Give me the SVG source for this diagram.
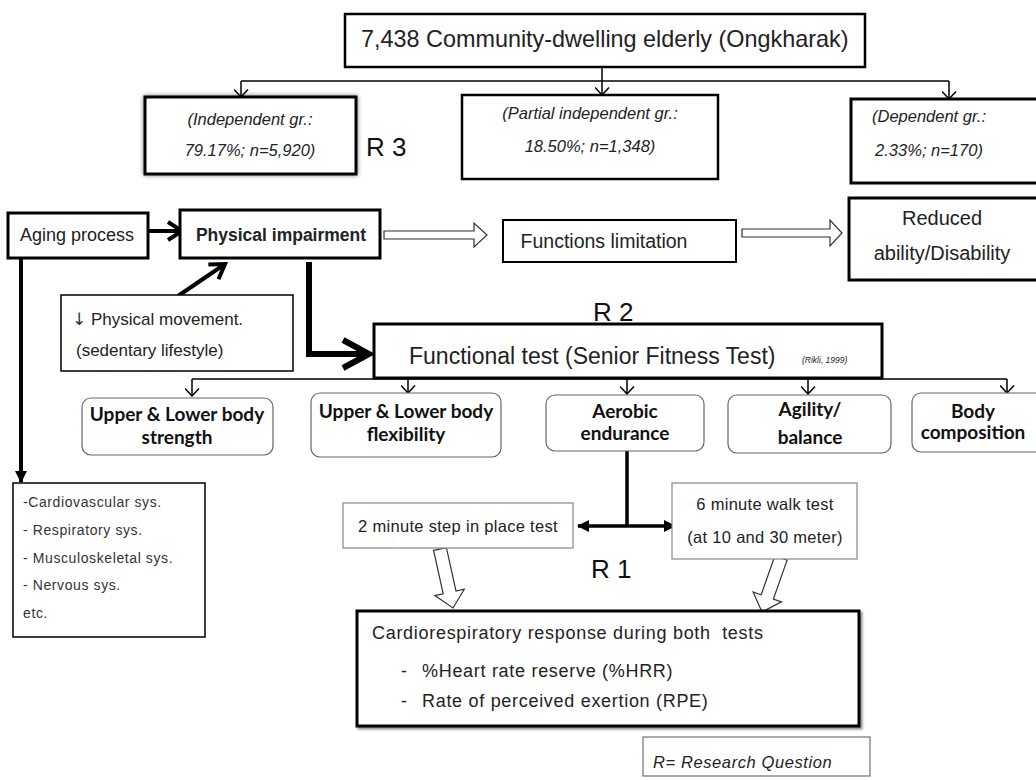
<svg xmlns="http://www.w3.org/2000/svg" width="1036" height="780" viewBox="0 0 1036 780">
<defs>
<style>
text{font-family:"Liberation Sans",Arial,"DejaVu Sans",sans-serif;fill:#222;white-space:pre}
.box{fill:#fff;stroke:#000}
.b3{stroke-width:3}
.b2{stroke-width:2}
.b15{stroke-width:1.5}
.gray{fill:#fff;stroke:#888;stroke-width:1.2}
.rb{fill:#fff;stroke:#666;stroke-width:1.2}
.sub{font-family:Lato,"Open Sans",sans-serif;font-weight:700;font-size:19px;fill:#111;text-anchor:middle}
.it{font-style:italic;font-size:16.5px}
.c{text-anchor:middle}
.R{font-size:26px;fill:#111}
.thin{fill:none;stroke:#000;stroke-width:1.5}
.blk{fill:none;stroke:#000;stroke-width:4}
.hollow{fill:#fff;stroke:#333;stroke-width:1.2;stroke-linejoin:miter}
.sys{font-size:14px;letter-spacing:0.6px;fill:#333}
.tst{font-size:16.5px;letter-spacing:0.3px}
.car{font-size:18px;letter-spacing:0.7px}
</style>
<marker id="v" markerUnits="userSpaceOnUse" markerWidth="9" markerHeight="15" viewBox="0 0 9 15" refX="8" refY="7.5" orient="auto">
<path d="M0.5,0.5 L8,7.5 L0.5,14.5" fill="none" stroke="#000" stroke-width="1.5"/>
</marker>
<marker id="chev" markerUnits="userSpaceOnUse" markerWidth="20" markerHeight="24" viewBox="0 0 20 24" refX="17" refY="12" orient="auto">
<path d="M3,3 L17,12 L3,21" fill="none" stroke="#000" stroke-width="4"/>
</marker>
<marker id="tri" markerUnits="userSpaceOnUse" markerWidth="12" markerHeight="12" viewBox="0 0 12 12" refX="11" refY="6" orient="auto-start-reverse">
<path d="M0,0 L12,6 L0,12 z" fill="#000"/>
</marker>
<filter id="glow" x="-10%" y="-20%" width="120%" height="140%">
<feGaussianBlur in="SourceAlpha" stdDeviation="2.5"/>
<feComponentTransfer><feFuncA type="linear" slope="0.5"/></feComponentTransfer>
<feMerge><feMergeNode/><feMergeNode in="SourceGraphic"/></feMerge>
</filter>
<filter id="drop" x="-5%" y="-5%" width="110%" height="115%">
<feDropShadow dx="2" dy="2" stdDeviation="1" flood-color="#000" flood-opacity="0.45"/>
</filter>
</defs>

<g id="connectors">
<line class="thin" x1="602" y1="67" x2="602" y2="95" marker-end="url(#v)"/>
<line class="thin" x1="241" y1="81" x2="949" y2="81"/>
<line class="thin" x1="241" y1="81" x2="241" y2="97" marker-end="url(#v)"/>
<line class="thin" x1="949" y1="81" x2="949" y2="99" marker-end="url(#v)"/>
<line class="blk" x1="138" y1="231" x2="182" y2="231" marker-end="url(#chev)"/>
<line class="blk" x1="178" y1="296" x2="225" y2="264" marker-end="url(#chev)"/>
<polyline points="309,262 309,354 366,354" fill="none" stroke="#000" stroke-width="6"/>
<path d="M343,340 L369,354 L343,368" fill="none" stroke="#000" stroke-width="6"/>
<line x1="21" y1="258" x2="21" y2="482" stroke="#000" stroke-width="4" marker-end="url(#tri)"/>
<polygon class="hollow" points="384,231 474,231 474,223 487,235 474,247 474,239 384,239"/>
<polygon class="hollow" points="742,229 830,229 830,220 842,233 830,246 830,237 742,237"/>
<line class="thin" x1="192" y1="379" x2="1007" y2="379"/>
<line class="thin" x1="192" y1="379" x2="192" y2="396" marker-end="url(#v)"/>
<line class="thin" x1="408" y1="379" x2="408" y2="393" marker-end="url(#v)"/>
<line class="thin" x1="627" y1="350" x2="627" y2="394" marker-end="url(#v)"/>
<line class="thin" x1="808" y1="379" x2="808" y2="394" marker-end="url(#v)"/>
<line class="thin" x1="1007" y1="379" x2="1007" y2="393" marker-end="url(#v)"/>
<line x1="627" y1="443" x2="627" y2="526" stroke="#000" stroke-width="3.5"/>
<line x1="578" y1="526" x2="675" y2="526" stroke="#000" stroke-width="3.5" marker-start="url(#tri)" marker-end="url(#tri)"/>
<polygon class="hollow" points="433.6,550.4 446.4,547.6 456,591 464.3,589.2 453,608 434.9,595.6 443.2,593.8"/>
<polygon class="hollow" points="774.9,555.8 787.1,560.2 773.4,599.1 781.5,601.9 762,612 753.1,591.9 761.2,594.7"/>
</g>

<g id="n-total">
<rect class="box" x="345" y="14" width="520" height="53" stroke-width="2.5"/>
<text x="361" y="47" font-size="23.4">7,438 Community-dwelling elderly (Ongkharak)</text>
</g>

<g id="n-independent">
<rect class="box b3" x="145" y="97" width="211" height="77" filter="url(#glow)"/>
<text class="it c" x="250" y="125" fill="#111">(Independent gr.:</text>
<text class="it c" x="250" y="156" fill="#000">79.17%; n=5,920)</text>
</g>
<text class="R" x="366" y="156">R 3</text>

<g id="n-partial">
<rect class="box" x="462" y="95" width="256" height="84" stroke-width="2.5"/>
<text class="it c" x="590" y="119" fill="#444">(Partial independent gr.:</text>
<text class="it c" x="590" y="152" fill="#444">18.50%; n=1,348)</text>
</g>

<g id="n-dependent">
<rect class="box b3" x="851" y="99" width="200" height="84"/>
<text class="it c" x="929" y="122" fill="#444">(Dependent gr.:</text>
<text class="it c" x="929" y="156" fill="#444">2.33%; n=170)</text>
</g>

<g id="n-aging">
<rect class="box b3" x="8" y="213" width="140" height="45"/>
<text x="20" y="241" font-size="18" fill="#444">Aging process</text>
</g>

<g id="n-impairment">
<rect class="box b3" x="180" y="210" width="200" height="48"/>
<text class="c" x="281" y="241" font-size="17.5" font-weight="bold" fill="#111">Physical impairment</text>
</g>

<g id="n-limitation">
<rect class="box b2" x="503" y="220" width="233" height="42"/>
<text class="c" x="604" y="248" font-size="19.5" fill="#333">Functions limitation</text>
</g>

<g id="n-disability">
<rect class="box b3" x="849" y="198" width="200" height="82"/>
<text class="c" x="942" y="225" font-size="20" fill="#333">Reduced</text>
<text class="c" x="942" y="260" font-size="20" fill="#333">ability/Disability</text>
</g>

<g id="n-movement">
<rect class="box b15" x="61" y="295" width="232" height="76"/>
<text x="72" y="325" font-size="17" fill="#333"><tspan font-family="DejaVu Sans" fill="#333">↓</tspan> Physical movement.</text>
<text x="76" y="356" font-size="17" fill="#333">(sedentary lifestyle)</text>
</g>

<text class="R" x="593" y="321">R 2</text>

<g id="n-functional">
<rect class="box b3" x="374" y="324" width="508" height="54"/>
<text x="409" y="364" font-size="23">Functional test (Senior Fitness Test)</text>
<text x="802" y="363" font-size="8.5" font-style="italic" fill="#333">(Rikli, 1999)</text>
</g>

<g id="n-strength">
<rect class="rb" x="82" y="398" width="191" height="57" rx="9"/>
<text class="sub" x="177" y="421">Upper &amp; Lower body</text>
<text class="sub" x="177" y="444">strength</text>
</g>
<g id="n-flexibility">
<rect class="rb" x="311" y="393" width="190" height="64" rx="9"/>
<text class="sub" x="406" y="418">Upper &amp; Lower body</text>
<text class="sub" x="406" y="441">flexibility</text>
</g>
<g id="n-aerobic">
<rect class="rb" x="546" y="395" width="158" height="56" rx="9"/>
<text class="sub" x="625" y="418">Aerobic</text>
<text class="sub" x="625" y="440">endurance</text>
</g>
<g id="n-agility">
<rect class="rb" x="728" y="395" width="163" height="58" rx="9"/>
<text class="sub" x="810" y="416">Agility/</text>
<text class="sub" x="810" y="444">balance</text>
</g>
<g id="n-body">
<rect class="rb" x="912" y="393" width="140" height="59" rx="9"/>
<text class="sub" x="973" y="418">Body</text>
<text class="sub" x="973" y="439">composition</text>
</g>

<g id="n-systems">
<rect class="box b15" x="13" y="483" width="192" height="154"/>
<text class="sys" x="23" y="507">-Cardiovascular sys.</text>
<text class="sys" x="23" y="535">- Respiratory sys.</text>
<text class="sys" x="23" y="563">- Musculoskeletal sys.</text>
<text class="sys" x="23" y="590">- Nervous sys.</text>
<text class="sys" x="23" y="618">etc.</text>
</g>

<g id="n-step">
<rect class="gray" x="343" y="503" width="230" height="45"/>
<text class="c tst" x="458" y="532">2 minute step in place test</text>
</g>

<g id="n-walk">
<rect class="gray" x="672" y="483" width="185" height="76"/>
<text class="c tst" x="765" y="510">6 minute walk test</text>
<text class="c tst" x="765" y="543">(at 10 and 30 meter)</text>
</g>

<text class="R" x="591" y="578">R 1</text>

<g id="n-cardio">
<rect class="box" x="357" y="611" width="502" height="115" stroke="#222" stroke-width="3" filter="url(#drop)"/>
<text class="car" x="372" y="639">Cardiorespiratory response during both  tests</text>
<text class="car" x="401" y="677">-</text>
<text class="car" x="422" y="677">%Heart rate reserve (%HRR)</text>
<text class="car" x="401" y="707">-</text>
<text class="car" x="422" y="707">Rate of perceived exertion (RPE)</text>
</g>

<g id="n-legend">
<rect x="643" y="737" width="227" height="39" fill="#fff" stroke="#555" stroke-width="1"/>
<text class="it" x="653" y="768" fill="#333" font-size="17" letter-spacing="0.6">R= Research Question</text>
</g>
</svg>
